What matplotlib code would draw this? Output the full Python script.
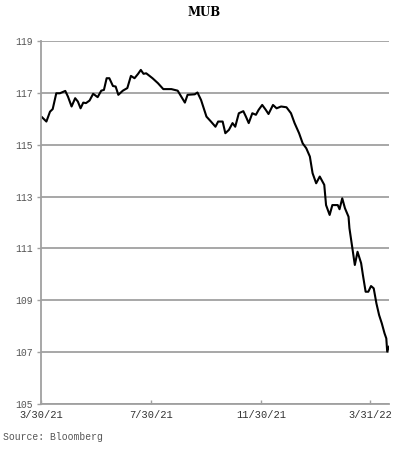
import matplotlib
matplotlib.use("Agg")
import matplotlib.pyplot as plt
import matplotlib.dates as mdates
import pandas as pd

# MUB price
dates = ["2021-03-31", "2021-04-05", "2021-04-09", "2021-04-12", "2021-04-16", "2021-04-20",
         "2021-04-26", "2021-04-29", "2021-05-03", "2021-05-07", "2021-05-10", "2021-05-13",
         "2021-05-16", "2021-05-19", "2021-05-23", "2021-05-27", "2021-06-01", "2021-06-05",
         "2021-06-08", "2021-06-11", "2021-06-14", "2021-06-18", "2021-06-21", "2021-06-24",
         "2021-06-29", "2021-07-04", "2021-07-08", "2021-07-12", "2021-07-16", "2021-07-19",
         "2021-07-22", "2021-07-25", "2021-08-01", "2021-08-07", "2021-08-13", "2021-08-22",
         "2021-08-29", "2021-09-02", "2021-09-06", "2021-09-09", "2021-09-17", "2021-09-20",
         "2021-09-24", "2021-09-30", "2021-10-05", "2021-10-10", "2021-10-13", "2021-10-18",
         "2021-10-21", "2021-10-25", "2021-10-29", "2021-11-01", "2021-11-05", "2021-11-10",
         "2021-11-13", "2021-11-16", "2021-11-20", "2021-11-24", "2021-11-27", "2021-12-01",
         "2021-12-05", "2021-12-08", "2021-12-13", "2021-12-17", "2021-12-22", "2021-12-28",
         "2022-01-02", "2022-01-06", "2022-01-11", "2022-01-15", "2022-01-19", "2022-01-23",
         "2022-01-26", "2022-01-30", "2022-02-03", "2022-02-08", "2022-02-10", "2022-02-14",
         "2022-02-17", "2022-02-23", "2022-02-25", "2022-02-28", "2022-03-03", "2022-03-07",
         "2022-03-08", "2022-03-11", "2022-03-14", "2022-03-17", "2022-03-21", "2022-03-23",
         "2022-03-26", "2022-03-29", "2022-04-01", "2022-04-04", "2022-04-07", "2022-04-10",
         "2022-04-13", "2022-04-16", "2022-04-18", "2022-04-19", "2022-04-21"]
prices = [116.06, 115.89, 116.27, 116.37, 116.98, 116.98,
          117.07, 116.85, 116.47, 116.79, 116.66, 116.40,
          116.62, 116.60, 116.70, 116.96, 116.83, 117.08,
          117.11, 117.56, 117.56, 117.26, 117.24, 116.92,
          117.08, 117.18, 117.65, 117.56, 117.73, 117.88,
          117.73, 117.75, 117.56, 117.37, 117.14, 117.14,
          117.08, 116.85, 116.62, 116.92, 116.94, 117.01,
          116.72, 116.08, 115.89, 115.69, 115.89, 115.89,
          115.44, 115.57, 115.83, 115.69, 116.21, 116.29,
          116.07, 115.83, 116.21, 116.15, 116.34, 116.53,
          116.34, 116.18, 116.53, 116.40, 116.47, 116.44,
          116.21, 115.83, 115.44, 115.05, 114.86, 114.54,
          113.90, 113.51, 113.77, 113.45, 112.67, 112.29,
          112.67, 112.67, 112.51, 112.93, 112.55, 112.22,
          111.78, 111.07, 110.36, 110.87, 110.43, 109.97,
          109.33, 109.33, 109.55, 109.46, 108.88, 108.43,
          108.11, 107.73, 107.53, 107.02, 107.21]

x_ticks = ["2021-03-30", "2021-07-30", "2021-11-30", "2022-03-31"]
x_labels = ["3/30/21", "7/30/21", "11/30/21", "3/31/22"]
y_ticks = [105, 107, 109, 111, 113, 115, 117, 119]

d = pd.to_datetime(dates)

fig = plt.figure(figsize=(4, 4.54), dpi=100)
ax = fig.add_axes([0.1025, 0.11, 0.87, 0.80])

# horizontal grid
ax.yaxis.grid(True, color="#a0a0a0", linewidth=1.3)
ax.set_axisbelow(True)

ax.plot(d, prices, color="black", linewidth=1.5)

ax.set_ylim(105, 119)
ax.set_xlim(pd.Timestamp("2021-03-30"), pd.Timestamp("2022-04-21"))
ax.set_yticks(y_ticks)
ax.set_yticklabels([str(v) for v in y_ticks])
ax.set_xticks(pd.to_datetime(x_ticks))
ax.set_xticklabels(x_labels)

for s in ["top", "right"]:
    ax.spines[s].set_visible(False)
for s in ["left", "bottom"]:
    ax.spines[s].set_color("#a0a0a0")
    ax.spines[s].set_linewidth(1.3)

ax.tick_params(axis="y", direction="out", length=3, color="#a0a0a0", width=1,
               labelsize=7, labelcolor="#555555", pad=3)
ax.tick_params(axis="x", direction="in", length=3, color="#a0a0a0", width=1,
               labelsize=7.5, labelcolor="#333333", pad=4)
for lab in ax.get_xticklabels() + ax.get_yticklabels():
    lab.set_fontfamily("Liberation Mono")

fig.text(0.51, 0.972, "MUB", ha="center", va="center", fontsize=8.5,
         fontweight="bold", family="DejaVu Serif")
fig.text(0.008, 0.037, "Source: Bloomberg", ha="left", va="center", fontsize=7,
         family="Liberation Mono", color="#555555")

plt.savefig("out.png", dpi=100)
